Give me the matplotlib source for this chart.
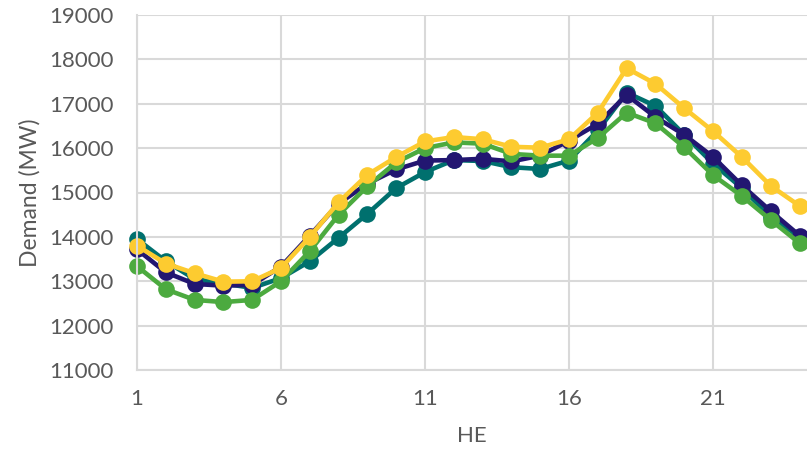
import matplotlib
matplotlib.use("Agg")
import matplotlib.pyplot as plt

hours = list(range(1, 25))
navy = [13720, 13200, 12940, 12900, 12920, 13330, 14030, 14750, 15200, 15520, 15720, 15730,
        15760, 15700, 15830, 16170, 16550, 17200, 16700, 16300, 15800, 15160, 14580, 14030]
teal = [13950, 13450, 13050, 12950, 12850, 13070, 13450, 13980, 14520, 15100, 15460, 15730,
        15710, 15570, 15530, 15720, 16400, 17250, 16950, 16300, 15650, 15100, 14450, 14000]
green = [13340, 12820, 12580, 12530, 12580, 13000, 13680, 14500, 15140, 15680, 16000, 16130,
         16100, 15870, 15830, 15830, 16230, 16800, 16560, 16020, 15390, 14920, 14380, 13860]
yellow = [13800, 13400, 13180, 12990, 13000, 13300, 14000, 14780, 15400, 15800, 16150, 16250,
          16200, 16030, 16010, 16200, 16800, 17800, 17450, 16900, 16380, 15800, 15150, 14700]

xticks = [1, 6, 11, 16, 21]
yticks = list(range(11000, 19001, 1000))

plt.rcParams['font.family'] = ['Lato', 'DejaVu Sans']
fig = plt.figure(figsize=(8.07, 4.54), dpi=100)
ax = fig.add_axes([137/807, 1 - 370/454, (807-137)/807, (370-15)/454])

series = [(teal, '#00706E'), (navy, '#221671'), (green, '#4CAA3F'), (yellow, '#FDCB30')]
for vals, col in series:
    ax.plot(hours, vals, color=col, lw=3.3, marker='o', markersize=12,
            markeredgewidth=0, clip_on=False, solid_joinstyle='round')

ax.set_xlim(1, 24.26)
ax.set_ylim(11000, 19000)
ax.set_xticks(xticks)
ax.set_yticks(yticks)
ax.grid(True, color='#D9D9D9', lw=1.5)
ax.set_axisbelow(True)
for s in ['top', 'right']:
    ax.spines[s].set_visible(False)
for s in ['left', 'bottom']:
    ax.spines[s].set_color('#D9D9D9')
    ax.spines[s].set_linewidth(1.5)
ax.tick_params(axis='y', length=0, labelsize=16, colors='#595959', pad=17)
ax.tick_params(axis='x', length=0, labelsize=16, colors='#595959', pad=14)
ax.set_xlabel('HE', fontsize=16, color='#595959', labelpad=12)
ax.set_ylabel('Demand (MW)', fontsize=16.5, color='#595959', labelpad=6)

fig.savefig('out.png', dpi=100)
